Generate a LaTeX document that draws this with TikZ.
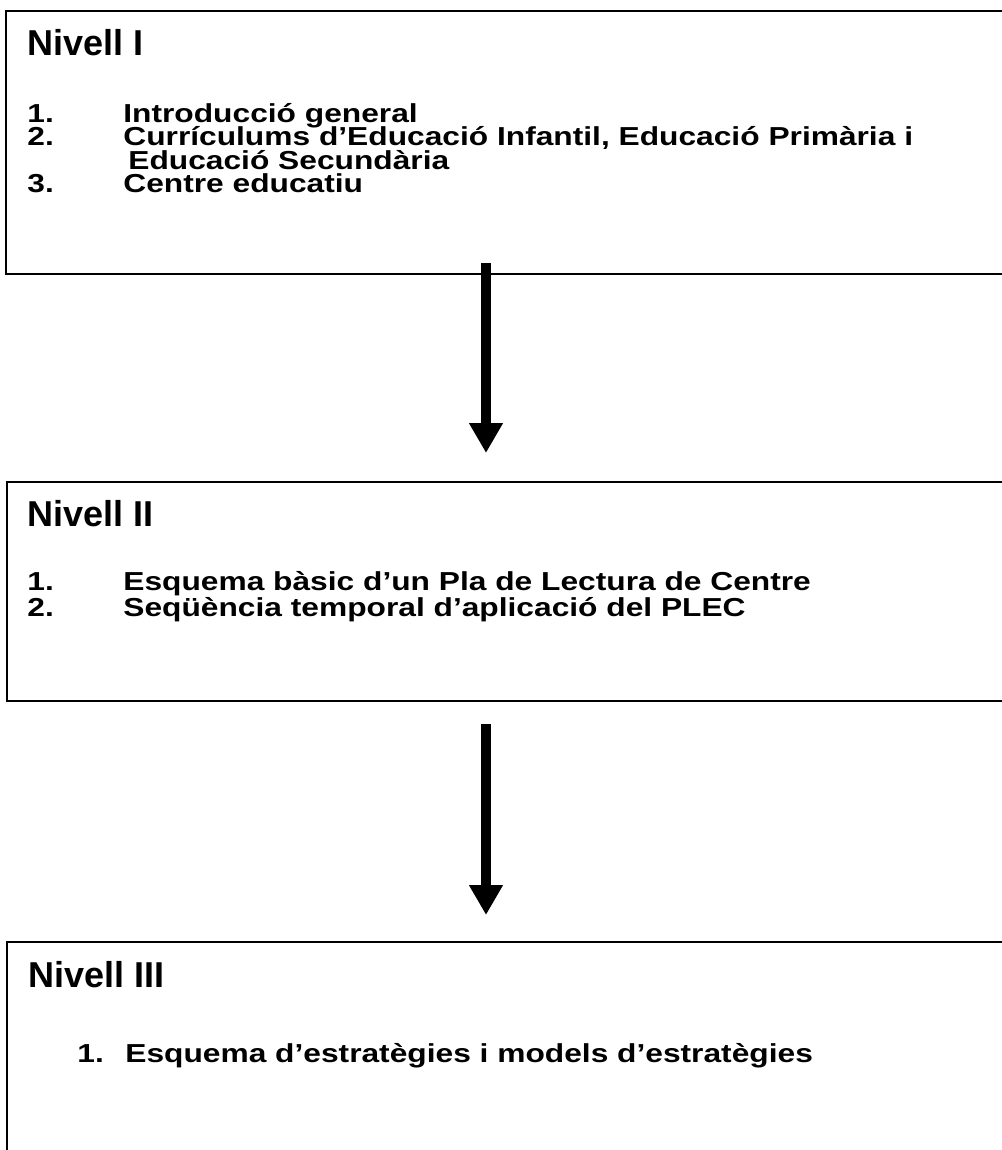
\documentclass[tikz,border=0pt]{standalone}
\usepackage{fontspec}
\setmainfont{Liberation Sans}
\newfontfamily\widesans[FakeStretch=1.22]{Liberation Sans}
\usetikzlibrary{arrows.meta}

\tikzset{
	levelbox/.style = {draw, line width=1pt, rectangle, anchor=north west, inner sep=0pt},
	heading/.style = {anchor=base west, inner sep=0pt, font=\fontsize{18}{20}\selectfont\bfseries},
	item/.style = {anchor=base west, inner sep=0pt, font=\widesans\fontsize{13}{14}\selectfont\bfseries},
	bigarrow/.style = {line width=5pt, -{Triangle[width=16pt,length=15pt]}}
}
\newcommand{\itemno}[1]{\makebox[48pt][l]{#1}}

\begin{document}
\begin{tikzpicture}[x=0.5pt,y=-0.5pt]
		\useasboundingbox (0,0) rectangle (1001,1150);

		% level boxes
		\node[levelbox, minimum width=510pt, minimum height=131.5pt] (nivell1) at (5,10) {};
		\node[levelbox, minimum width=510pt, minimum height=109.5pt] (nivell2) at (6,481) {};
		\node[levelbox, minimum width=510pt, minimum height=115pt] (nivell3) at (6,941) {};

		% texts
		\node[heading] (h1) at (27,56) {Nivell I};
		\node[item] (i11) at (27,122.5) {\itemno{1.}Introducció general};
		\node[item] (i12) at (27,145.8) {\itemno{2.}Currículums d’Educació Infantil, Educació Primària i};
		\node[item] (i12b) at (128,169.1) {Educació Secundària};
		\node[item] (i13) at (27,192.4) {\itemno{3.}Centre educatiu};

		\node[heading] (h2) at (27,526) {Nivell II};
		\node[item] (i21) at (27,590) {\itemno{1.}Esquema bàsic d’un Pla de Lectura de Centre};
		\node[item] (i22) at (27,616) {\itemno{2.}Seqüència temporal d’aplicació del PLEC};

		\node[heading] (h3) at (28,987) {Nivell III};
		\node[item] (i31) at (77,1062) {\makebox[24pt][l]{1.}Esquema d’estratègies i models d’estratègies};

		% arrows
		\coordinate (a1top) at (486,263);
		\coordinate (a1tip) at (486,453);
		\coordinate (a2top) at (486,724);
		\coordinate (a2tip) at (486,915);
		\draw[bigarrow] (a1top) -- (a1tip);
		\draw[bigarrow] (a2top) -- (a2tip);
	\end{tikzpicture}
\end{document}
